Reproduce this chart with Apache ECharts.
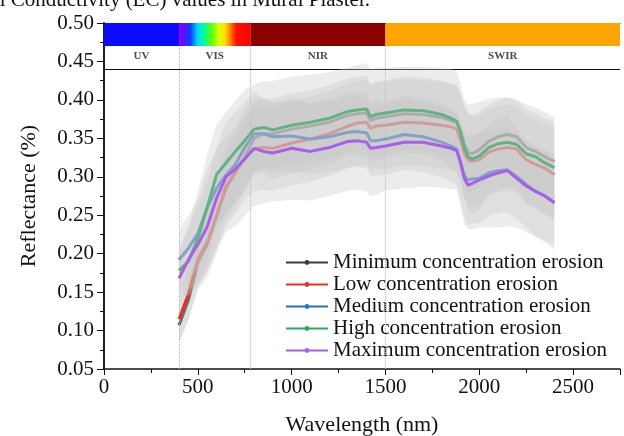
<!DOCTYPE html>
<html>
<head>
<meta charset="utf-8">
<script src="https://cdn.jsdelivr.net/npm/echarts@6/dist/echarts.min.js"></script>
<style>
  html, body { margin: 0; padding: 0; background: #fff; }
  #chart { width: 624px; height: 436px; }
</style>
</head>
<body>
<div id="chart"></div>
<script>
// wavelength samples (nm)
const wavelengths = [400, 450, 500, 550, 600, 650, 700, 750, 800, 850, 900,
  1000, 1100, 1200, 1300, 1350, 1400, 1420, 1450, 1500,
  1600, 1700, 1800, 1850, 1880, 1900, 1920, 1940, 1960,
  2000, 2050, 2100, 2150, 2200, 2250, 2300, 2350, 2400];

// mean reflectance per group
const minimumErosion = [0.107, 0.140, 0.188, 0.212, 0.248, 0.285, 0.305, 0.326, 0.350, 0.356, 0.356,
  0.362, 0.366, 0.371, 0.380, 0.382, 0.383, 0.373, 0.376, 0.378,
  0.382, 0.381, 0.377, 0.373, 0.370, 0.360, 0.342, 0.332, 0.330,
  0.335, 0.346, 0.352, 0.355, 0.352, 0.338, 0.333, 0.326, 0.320];
const lowErosion = [0.115, 0.148, 0.193, 0.215, 0.250, 0.288, 0.306, 0.325, 0.336, 0.338, 0.337,
  0.344, 0.349, 0.356, 0.366, 0.370, 0.371, 0.363, 0.366, 0.367,
  0.371, 0.370, 0.367, 0.365, 0.362, 0.348, 0.330, 0.322, 0.320,
  0.322, 0.332, 0.336, 0.338, 0.336, 0.322, 0.316, 0.311, 0.303];
const mediumErosion = [0.192, 0.207, 0.226, 0.260, 0.285, 0.302, 0.316, 0.338, 0.356, 0.356, 0.352,
  0.353, 0.349, 0.352, 0.358, 0.359, 0.357, 0.347, 0.347, 0.349,
  0.355, 0.352, 0.345, 0.340, 0.336, 0.320, 0.302, 0.296, 0.297,
  0.298, 0.305, 0.308, 0.309, 0.300, 0.290, 0.281, 0.275, 0.267];
const highErosion = [0.178, 0.190, 0.220, 0.260, 0.303, 0.318, 0.333, 0.347, 0.362, 0.364, 0.361,
  0.367, 0.371, 0.376, 0.385, 0.387, 0.388, 0.378, 0.381, 0.383,
  0.387, 0.386, 0.381, 0.376, 0.372, 0.358, 0.338, 0.326, 0.323,
  0.327, 0.338, 0.343, 0.345, 0.342, 0.330, 0.326, 0.318, 0.312];
const maximumErosion = [0.168, 0.192, 0.212, 0.235, 0.272, 0.300, 0.310, 0.323, 0.337, 0.333, 0.331,
  0.337, 0.333, 0.338, 0.346, 0.347, 0.345, 0.337, 0.338, 0.340,
  0.345, 0.345, 0.340, 0.337, 0.334, 0.318, 0.298, 0.289, 0.291,
  0.296, 0.301, 0.305, 0.308, 0.298, 0.288, 0.281, 0.275, 0.266];

// spread (half width of the grey band) per group
const minimumSpread = [0.024, 0.026, 0.032, 0.035, 0.040, 0.042, 0.044, 0.045, 0.046, 0.046, 0.046,
  0.047, 0.047, 0.048, 0.048, 0.048, 0.048, 0.048, 0.048, 0.048,
  0.048, 0.048, 0.048, 0.048, 0.048, 0.050, 0.052, 0.052, 0.050,
  0.050, 0.048, 0.048, 0.048, 0.048, 0.050, 0.050, 0.050, 0.052];
const lowSpread = [0.030, 0.034, 0.040, 0.046, 0.050, 0.052, 0.054, 0.055, 0.055, 0.055, 0.055,
  0.055, 0.055, 0.055, 0.055, 0.055, 0.055, 0.056, 0.056, 0.056,
  0.056, 0.056, 0.056, 0.056, 0.056, 0.058, 0.060, 0.060, 0.060,
  0.058, 0.056, 0.056, 0.056, 0.056, 0.058, 0.058, 0.060, 0.060];
const mediumSpread = [0.040, 0.042, 0.045, 0.050, 0.052, 0.050, 0.050, 0.050, 0.048, 0.046, 0.046,
  0.046, 0.046, 0.046, 0.046, 0.046, 0.046, 0.046, 0.046, 0.046,
  0.046, 0.046, 0.046, 0.046, 0.046, 0.050, 0.055, 0.058, 0.058,
  0.058, 0.056, 0.055, 0.055, 0.055, 0.056, 0.058, 0.060, 0.062];
const highSpread = [0.030, 0.045, 0.060, 0.070, 0.065, 0.066, 0.066, 0.066, 0.058, 0.060, 0.064,
  0.063, 0.062, 0.060, 0.057, 0.058, 0.060, 0.062, 0.060, 0.059,
  0.056, 0.057, 0.060, 0.064, 0.066, 0.062, 0.062, 0.068, 0.072,
  0.070, 0.063, 0.060, 0.058, 0.058, 0.064, 0.064, 0.066, 0.065];
const maximumSpread = [0.035, 0.040, 0.050, 0.058, 0.066, 0.072, 0.074, 0.074, 0.075, 0.068, 0.063,
  0.067, 0.064, 0.063, 0.064, 0.064, 0.064, 0.062, 0.062, 0.058,
  0.060, 0.058, 0.054, 0.053, 0.051, 0.055, 0.060, 0.057, 0.060,
  0.062, 0.067, 0.071, 0.072, 0.064, 0.060, 0.059, 0.058, 0.055];

const seriesNames = ["Minimum concentration erosion", "Low concentration erosion",
  "Medium concentration erosion", "High concentration erosion", "Maximum concentration erosion"];
const seriesValues = [minimumErosion, lowErosion, mediumErosion, highErosion, maximumErosion];
const seriesSpreads = [minimumSpread, lowSpread, mediumSpread, highSpread, maximumSpread];
const seriesColors = ["#3c3c3c", "#e8302a", "#2f6fc4", "#2ea862", "#a660ea"];

// spectral regions
const regionEdges = [0, 400, 780, 1500, 2750];
const regionNames = ["UV", "VIS", "NIR", "SWIR"];
const yTicks = [0.05, 0.50];

const FONT = "'Liberation Serif', 'Times New Roman', serif";

const chart = echarts.init(document.getElementById("chart"));

const spectrum = new echarts.graphic.LinearGradient(0, 0, 1, 0, [
  { offset: 0, color: "#8a00ff" },
  { offset: 0.07, color: "#5a10ff" },
  { offset: 0.16, color: "#0a40ff" },
  { offset: 0.26, color: "#00d8ff" },
  { offset: 0.36, color: "#00ff90" },
  { offset: 0.46, color: "#60ff00" },
  { offset: 0.56, color: "#d8ff00" },
  { offset: 0.64, color: "#ffe000" },
  { offset: 0.72, color: "#ff8000" },
  { offset: 0.8, color: "#ff1000" },
  { offset: 1, color: "#ff0000" }
]);
const barColors = ["#0a0aff", spectrum, "#8b0000", "#ffa500"];

const series = [];

// dotted region dividers
series.push({
  type: "line",
  data: [],
  z: 1,
  markLine: {
    silent: true,
    symbol: "none",
    label: { show: false },
    lineStyle: { color: "#b5b5b5", type: "dotted", width: 1 },
    data: regionEdges.slice(1, 4).map((x) => [
      { coord: [x, yTicks[0]] },
      { coord: [x, 0.47] }
    ])
  }
});

// grey band (mean +/- spread) drawn as one polygon through the axes
function bandSeries(vals, spread, z) {
  const lower = vals.map((v, k) => v - spread[k]);
  const upper = vals.map((v, k) => v + spread[k]);
  return {
    type: "custom",
    silent: true,
    z: z,
    encode: { x: 0, y: [1, 2] },
    data: wavelengths.map((w, k) => [w, lower[k], upper[k]]),
    renderItem: (params, api) => {
      if (params.dataIndex !== 0) return null;
      const pts = [];
      for (let k = 0; k < wavelengths.length; k++) pts.push(api.coord([wavelengths[k], lower[k]]));
      for (let k = wavelengths.length - 1; k >= 0; k--) pts.push(api.coord([wavelengths[k], upper[k]]));
      return {
        type: "polygon",
        shape: { points: pts },
        style: { fill: "rgba(200,200,200,0.34)", stroke: null }
      };
    }
  };
}

// each band covers the lines drawn before it
seriesValues.forEach((vals, i) => {
  series.push(bandSeries(vals, seriesSpreads[i], 2 + 2 * i));
  series.push({
    name: seriesNames[i],
    type: "line",
    symbol: "circle",
    symbolSize: 4,
    showSymbol: false,
    color: seriesColors[i],
    lineStyle: { width: 3, color: seriesColors[i] },
    z: 3 + 2 * i,
    data: wavelengths.map((w, k) => [w, vals[k]])
  });
});

// colour bar, region labels and separator line
series.push({
  type: "scatter",
  symbolSize: 1,
  itemStyle: { color: "rgba(0,0,0,0)" },
  z: 20,
  silent: true,
  label: {
    show: true,
    position: "inside",
    formatter: (p) => p.data[2],
    fontFamily: FONT,
    fontWeight: "bold",
    fontSize: 11,
    color: "#222"
  },
  data: regionNames.map((n, i) => [(regionEdges[i] + regionEdges[i + 1]) / 2, 0.4565, n]),
  markArea: {
    silent: true,
    label: { show: false },
    data: regionNames.map((n, i) => [
      { xAxis: regionEdges[i], yAxis: 0.47, itemStyle: { color: barColors[i], opacity: 1, borderWidth: 0 } },
      { xAxis: regionEdges[i + 1], yAxis: yTicks[1] }
    ])
  },
  markLine: {
    silent: true,
    symbol: "none",
    label: { show: false },
    lineStyle: { color: "#111", type: "solid", width: 1 },
    data: [{ yAxis: 0.441 }]
  }
});

const option = {
  animation: false,
  backgroundColor: "#fff",
  textStyle: { fontFamily: FONT },
  graphic: [{
    type: "text",
    right: 254,
    top: -10,
    style: {
      text: "Electrical Conductivity (EC) values in Mural Plaster.",
      font: "21px " + FONT,
      fill: "#111"
    }
  }],
  grid: { left: 104, right: 4, top: 23, bottom: 67, containLabel: false, outerBoundsMode: "none" },
  legend: {
    orient: "vertical",
    left: 280,
    top: 247,
    itemWidth: 42,
    itemHeight: 6,
    itemGap: 1,
    selectedMode: false,
    lineStyle: { width: 2 },
    textStyle: { fontFamily: FONT, fontSize: 21, color: "#111", lineHeight: 20 },
    data: seriesNames
  },
  xAxis: [{
    type: "value",
    min: 0,
    max: 2750,
    interval: 500,
    name: "Wavelength (nm)",
    nameLocation: "middle",
    nameGap: 45,
    nameTextStyle: { fontFamily: FONT, fontSize: 22, color: "#111" },
    axisLine: { lineStyle: { color: "#111", width: 1.5 } },
    axisTick: { length: 6, lineStyle: { color: "#111" } },
    minorTick: { show: true, splitNumber: 2, length: 4, lineStyle: { color: "#111" } },
    axisLabel: { fontFamily: FONT, fontSize: 21, color: "#111", margin: 8, showMaxLabel: false, formatter: (v) => String(v) },
    splitLine: { show: false }
  }, {
    type: "value",
    position: "top",
    min: 0,
    max: 2750,
    axisLine: { show: true, lineStyle: { color: "#111", width: 1 } },
    axisTick: { show: false },
    axisLabel: { show: false },
    splitLine: { show: false }
  }],
  yAxis: [{
    type: "value",
    min: yTicks[0],
    max: yTicks[1],
    interval: 0.05,
    name: "Reflectance (%)",
    nameLocation: "middle",
    nameGap: 64,
    nameTextStyle: { fontFamily: FONT, fontSize: 22, color: "#111" },
    axisLine: { show: true, lineStyle: { color: "#111", width: 1.5 } },
    axisTick: { show: true, length: 7, lineStyle: { color: "#111" } },
    minorTick: { show: true, splitNumber: 2, length: 4, lineStyle: { color: "#111" } },
    axisLabel: { fontFamily: FONT, fontSize: 21, color: "#111", margin: 10, formatter: (v) => v.toFixed(2) },
    splitLine: { show: false }
  }, {
    type: "value",
    position: "right",
    min: yTicks[0],
    max: yTicks[1],
    interval: 0.05,
    axisLine: { show: true, lineStyle: { color: "#111", width: 1.5 } },
    axisTick: { show: true, inside: true, length: 6, lineStyle: { color: "#111" } },
    minorTick: { show: true, splitNumber: 2, length: 4, lineStyle: { color: "#111" } },
    axisLabel: { show: false },
    splitLine: { show: false }
  }],
  series: series
};

chart.setOption(option);
</script>
</body>
</html>
